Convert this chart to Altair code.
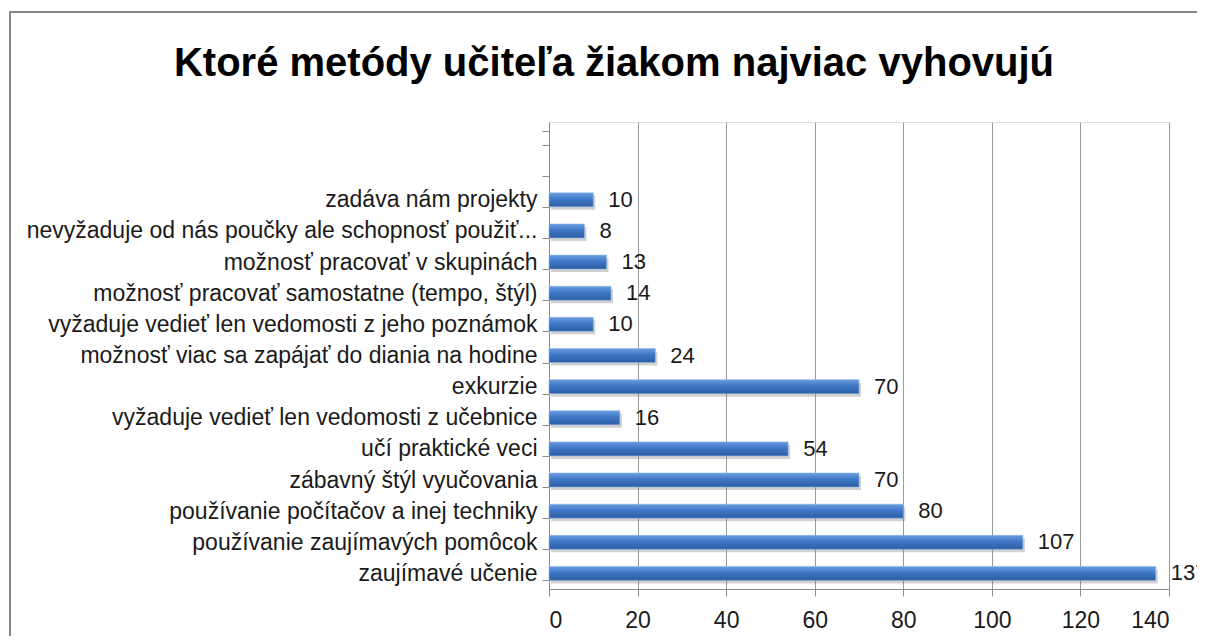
import altair as alt
import pandas as pd

TITLE = "Ktoré metódy učiteľa žiakom najviac vyhovujú"

# categories top -> bottom (two empty slots at the top, as in the original)
categories = [
    " ",
    "  ",
    "zadáva nám projekty",
    "nevyžaduje od nás poučky ale schopnosť použiť...",
    "možnosť pracovať v skupinách",
    "možnosť pracovať samostatne (tempo, štýl)",
    "vyžaduje vedieť len vedomosti z jeho poznámok",
    "možnosť viac sa zapájať do diania na hodine",
    "exkurzie",
    "vyžaduje vedieť len vedomosti z učebnice",
    "učí praktické veci",
    "zábavný štýl vyučovania",
    "používanie počítačov a inej techniky",
    "používanie zaujímavých pomôcok",
    "zaujímavé učenie",
]
values = [None, None, 10, 8, 13, 14, 10, 24, 70, 16, 54, 70, 80, 107, 137]
x_ticks = [0, 20, 40, 60, 80, 100, 120, 140]

df = pd.DataFrame({"metoda": categories, "pocet": values})
bars_df = df.dropna()

FONT = "Liberation Sans, Arial, sans-serif"

W, H = 620, 467
PAD_L, PAD_T = 541, 114
PAD_R = 1189 - PAD_L - W
PAD_B = 628 - PAD_T - H

y_enc = alt.Y(
    "metoda:N",
    sort=categories,
    scale=alt.Scale(domain=categories, paddingInner=0.55, paddingOuter=0.275),
    axis=alt.Axis(
        title=None,
        tickBand="extent",
        tickSize=7,
        tickColor="#8c8c8c",
        domainColor="#8c8c8c",
        labelFont=FONT,
        labelFontSize=23,
        labelColor="#1a1a1a",
        labelLimit=700,
        labelPadding=5,
        grid=False,
    ),
)
x_enc = alt.X(
    "pocet:Q",
    scale=alt.Scale(domain=[0, 140], nice=False),
    axis=alt.Axis(
        title=None,
        values=x_ticks,
        tickSize=7,
        tickColor="#8c8c8c",
        domainColor="#8c8c8c",
        gridColor="#9a9a9a",
        gridWidth=1,
        labelFont=FONT,
        labelFontSize=23,
        labelColor="#1a1a1a",
        labelPadding=13,
    ),
)

base = alt.Chart(bars_df)

shadow = base.mark_bar(color="#7a7a7a", opacity=0.35, xOffset=2, yOffset=3).encode(
    x=x_enc, y=y_enc
)

gradient = alt.Gradient(
    gradient="linear",
    x1=0, y1=0, x2=0, y2=1,
    stops=[
        alt.GradientStop(color="#6a9de0", offset=0),
        alt.GradientStop(color="#3f77c6", offset=0.45),
        alt.GradientStop(color="#2c5ea3", offset=1),
    ],
)
bars = base.mark_bar(color=gradient, stroke="#8db3e6", strokeWidth=0.6).encode(
    x=x_enc, y=y_enc
)

labels = base.mark_text(
    align="left", baseline="middle", dx=15, font=FONT, fontSize=22, color="#1a1a1a"
).encode(x=x_enc, y=y_enc, text=alt.Text("pocet:Q", format="d"))

frame_top = alt.Chart(pd.DataFrame({"k": [0]})).mark_rule(
    color="#878787", strokeWidth=2
).encode(x=alt.value(-540), x2=alt.value(700), y=alt.value(-110))
frame_left = alt.Chart(pd.DataFrame({"k": [0]})).mark_rule(
    color="#878787", strokeWidth=2
).encode(x=alt.value(-539), y=alt.value(-111), y2=alt.value(560))

chart = (
    alt.layer(frame_top, frame_left, shadow, bars, labels)
    .properties(
        width=W,
        height=H,
        title=alt.TitleParams(
            text=TITLE,
            font=FONT,
            fontSize=40,
            fontWeight="bold",
            color="#000000",
            anchor="middle",
            frame="group",
            dx=-245,
            offset=-106,
            baseline="alphabetic",
        ),
        padding={"left": PAD_L, "top": PAD_T, "right": PAD_R, "bottom": PAD_B},
        autosize=alt.AutoSizeParams(type="none"),
    )
    .configure_view(stroke=None)
    .configure(background="white")
)

chart.save("out.html", embed_options={"renderer": "svg", "actions": False})
